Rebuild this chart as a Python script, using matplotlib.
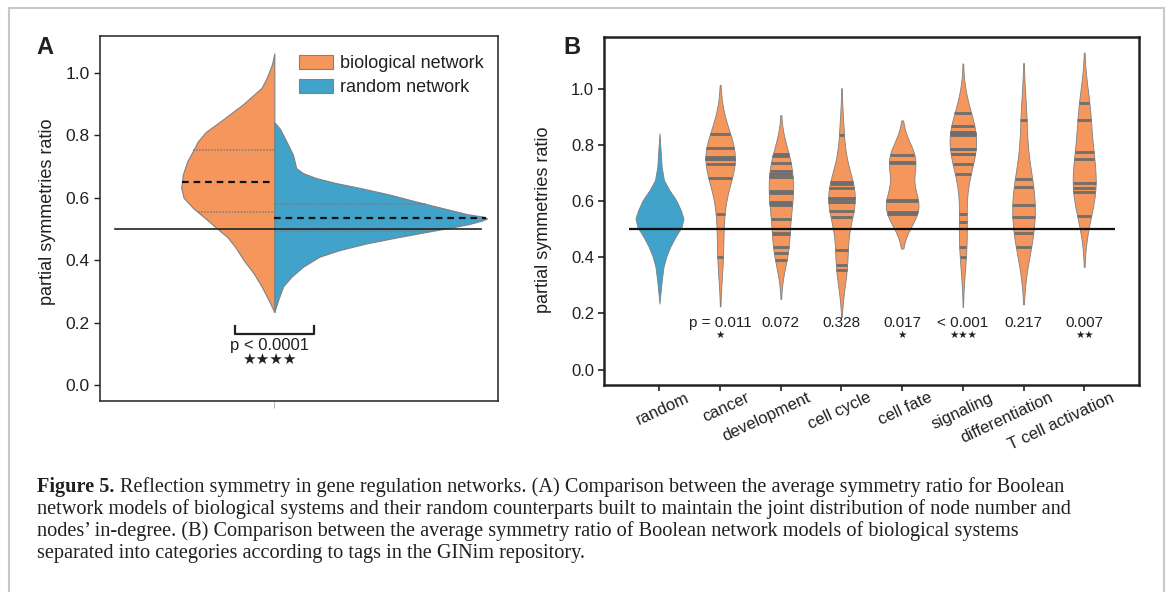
import numpy as np
import matplotlib.pyplot as plt
import matplotlib.transforms as mtransforms
from matplotlib.patches import Patch, Rectangle

plt.rcParams['font.family'] = ['Liberation Sans', 'DejaVu Sans']

ORANGE = '#f5975d'
BLUE = '#41a2ca'
EDGE = '#808080'
STICK = '#6e6e6e'
INK = '#231f20'

# ---- panel A: half-violin outlines (ratio, half width) ----
bio_y = [0.234, 0.274, 0.316, 0.358, 0.400, 0.442, 0.474, 0.505, 0.537, 0.568,
         0.600, 0.632, 0.674, 0.716, 0.758, 0.779, 0.811, 0.846, 0.899, 0.952,
         0.984, 1.027, 1.062]
bio_w = [0.0, 0.015, 0.032, 0.052, 0.077, 0.098, 0.118, 0.147, 0.176, 0.205,
         0.228, 0.234, 0.230, 0.219, 0.201, 0.193, 0.172, 0.134, 0.079, 0.032,
         0.019, 0.006, 0.0]
rand_y = [0.234, 0.274, 0.316, 0.347, 0.379, 0.411, 0.432, 0.453, 0.474, 0.495,
          0.505, 0.516, 0.527, 0.534, 0.540, 0.547, 0.568, 0.589, 0.611, 0.632,
          0.647, 0.663, 0.679, 0.695, 0.716, 0.737, 0.758, 0.789, 0.821, 0.842]
rand_w = [0.0, 0.010, 0.022, 0.043, 0.072, 0.113, 0.163, 0.229, 0.312, 0.402,
          0.447, 0.490, 0.522, 0.535, 0.522, 0.486, 0.419, 0.353, 0.287, 0.213,
          0.155, 0.105, 0.072, 0.055, 0.051, 0.047, 0.039, 0.027, 0.014, 0.0]
bio_quartiles = [0.553, 0.650, 0.752]
rand_quartiles = [0.493, 0.535, 0.580]
legend_labels = ['biological network', 'random network']

# ---- panel B: per-category model ratios ----
categories = ['random', 'cancer', 'development', 'cell cycle', 'cell fate',
              'signaling', 'differentiation', 'T cell activation']
cancer = [0.839, 0.789, 0.758, 0.750, 0.750, 0.732, 0.683, 0.555, 0.400]
development = [0.768, 0.762, 0.737, 0.707, 0.696, 0.685, 0.636, 0.630, 0.598,
               0.590, 0.585, 0.536, 0.487, 0.482, 0.437, 0.415, 0.390]
cell_cycle = [0.836, 0.668, 0.662, 0.648, 0.612, 0.606, 0.598, 0.564, 0.544,
              0.425, 0.371, 0.354]
cell_fate = [0.764, 0.740, 0.735, 0.604, 0.600, 0.560, 0.555]
signaling = [0.913, 0.868, 0.848, 0.845, 0.842, 0.840, 0.835, 0.786, 0.786,
             0.768, 0.768, 0.733, 0.696, 0.555, 0.526, 0.436, 0.401]
differentiation = [0.889, 0.680, 0.651, 0.587, 0.544, 0.485, 0.436]
t_cell = [0.949, 0.889, 0.776, 0.749, 0.663, 0.648, 0.631, 0.546]
groups = [cancer, development, cell_cycle, cell_fate, signaling,
          differentiation, t_cell]

# random networks outline in panel B
brand_y = [0.235, 0.270, 0.318, 0.365, 0.401, 0.437, 0.473, 0.508, 0.538,
           0.568, 0.604, 0.639, 0.675, 0.722, 0.782, 0.842]
brand_w = [0.0, 0.016, 0.038, 0.066, 0.110, 0.176, 0.264, 0.363, 0.396,
           0.352, 0.275, 0.165, 0.074, 0.036, 0.019, 0.0]

pvals_b = ['p = 0.011', '0.072', '0.328', '0.017', '< 0.001', '0.217', '0.007']
stars_b = ['★', '', '', '★', '★★★', '', '★★']

width_per_density = 0.076


def kde(vals, cut=2, n=200):
    vals = np.asarray(vals)
    bw = vals.std(ddof=1) * len(vals) ** (-1 / 5)
    grid = np.linspace(vals.min() - cut * bw, vals.max() + cut * bw, n)
    z = (grid[:, None] - vals[None, :]) / bw
    dens = np.exp(-0.5 * z ** 2).sum(1) / (len(vals) * bw * np.sqrt(2 * np.pi))
    return grid, dens


fig = plt.figure(figsize=(11.68, 5.92), dpi=100)
fig.patch.set_facecolor('white')

# ================= panel A =================
axA = fig.add_axes([100 / 1168, 1 - 401 / 592, 398 / 1168, 365 / 592])
axA.fill_betweenx(bio_y, 0, -np.array(bio_w), facecolor=ORANGE,
                  edgecolor=EDGE, lw=0.8, zorder=2)
axA.fill_betweenx(rand_y, 0, rand_w, facecolor=BLUE,
                  edgecolor=EDGE, lw=0.8, zorder=2)
for i, q in enumerate(bio_quartiles):
    w = np.interp(q, bio_y, bio_w)
    if i == 1:
        axA.plot([-w, 0], [q, q], color='#111111', ls=(0, (3, 2.2)), lw=1.6, zorder=3)
    else:
        axA.plot([-w, 0], [q, q], color='#7a7a7a', ls=(0, (1, 1)), lw=1.1, zorder=3)
for i, q in enumerate(rand_quartiles):
    w = np.interp(q, rand_y, rand_w)
    if i == 1:
        axA.plot([0, w], [q, q], color='#111111', ls=(0, (3, 2.2)), lw=1.6, zorder=3)
    else:
        axA.plot([0, w], [q, q], color='#7a7a7a', ls=(0, (1, 1)), lw=1.1, zorder=3)
axA.plot([-0.40, 0.52], [0.5, 0.5], color='#222222', lw=1.2, zorder=4)

# significance bracket
axA.plot([-0.1, -0.1, 0.1, 0.1], [0.19, 0.165, 0.165, 0.19], color='#222222',
         lw=1.6, zorder=4)
axA.text(-0.012, 0.128, 'p < 0.0001', ha='center', va='center', fontsize=12,
         color=INK)
axA.text(-0.012, 0.083, '★★★★', ha='center', va='center', fontsize=11,
         color=INK, family=['DejaVu Sans'])

axA.set_xlim(-0.438, 0.562)
axA.set_ylim(-0.051, 1.118)
axA.set_yticks(np.arange(0, 1.01, 0.2))
axA.set_yticklabels([f'{v:.1f}' for v in np.arange(0, 1.01, 0.2)])
axA.set_xticks([0])
axA.set_xticklabels([''])
axA.tick_params(axis='x', length=5, color='#bbbbbb')
axA.tick_params(axis='y', length=4, width=1, labelsize=12.5, colors=INK)
for s in axA.spines.values():
    s.set_linewidth(1.2)
    s.set_color('#333333')
axA.legend(handles=[Patch(facecolor=ORANGE, edgecolor=EDGE, lw=0.8),
                    Patch(facecolor=BLUE, edgecolor=EDGE, lw=0.8)],
           labels=legend_labels, loc='upper left', bbox_to_anchor=(0.5, 0.948),
           frameon=False, fontsize=13, handlelength=1.9, handleheight=0.8,
           handletextpad=0.35, labelspacing=0.38, borderpad=0,
           borderaxespad=0, labelcolor=INK)

# ================= panel B =================
axB = fig.add_axes([604.5 / 1168, 1 - 385 / 592, 534 / 1168, 348 / 592])
axB.fill_betweenx(brand_y, -np.array(brand_w), brand_w, facecolor=BLUE,
                  edgecolor=EDGE, lw=0.6, zorder=2)
for pos, vals in enumerate(groups, start=1):
    grid, dens = kde(vals)
    half = dens * width_per_density
    axB.fill_betweenx(grid, pos - half, pos + half, facecolor=ORANGE,
                      edgecolor=EDGE, lw=0.6, zorder=2)
    for v in vals:
        w = np.interp(v, grid, dens) * width_per_density
        axB.plot([pos - w, pos + w], [v, v], color=STICK, lw=2.0,
                 solid_capstyle='butt', zorder=3)
axB.hlines(0.5, -0.5, 7.5, color='#111111', lw=1.6, zorder=4)

for pos, (p, st) in enumerate(zip(pvals_b, stars_b), start=1):
    axB.text(pos, 0.165, p, ha='center', va='center', fontsize=11, color=INK)
    if st:
        axB.text(pos, 0.123, st, ha='center', va='center', fontsize=7.5,
                 color=INK, family=['DejaVu Sans'])

axB.set_xlim(-0.906, 7.895)
axB.set_ylim(-0.055, 1.185)
axB.set_yticks(np.arange(0, 1.01, 0.2))
axB.set_yticklabels([f'{v:.1f}' for v in np.arange(0, 1.01, 0.2)])
axB.set_xticks(range(len(categories)))
axB.set_xticklabels([])
axB.tick_params(axis='both', length=4, width=1.2, labelsize=12, colors=INK)
# category names, rotated and hung to the right of each tick
base = mtransforms.blended_transform_factory(axB.transData, axB.transAxes)
shift = mtransforms.ScaledTranslation(0.26, -0.05, fig.dpi_scale_trans)
for pos, name in enumerate(categories):
    axB.text(pos, 0, name, transform=base + shift, rotation=25,
             rotation_mode='anchor', ha='right', va='top', fontsize=12,
             color=INK)
for s in axB.spines.values():
    s.set_linewidth(1.8)
    s.set_color('#222222')

# ---- labels ----
fig.text(48 / 1168, 1 - 212 / 592, 'partial symmetries ratio', rotation=90,
         ha='center', va='center', fontsize=13, color=INK)
fig.text(544 / 1168, 1 - 220 / 592, 'partial symmetries ratio', rotation=90,
         ha='center', va='center', fontsize=13, color=INK)
fig.text(36 / 1168, 1 - 47 / 592, 'A', fontsize=17, fontweight='bold',
         ha='left', va='center', color=INK)
fig.text(563 / 1168, 1 - 47 / 592, 'B', fontsize=17, fontweight='bold',
         ha='left', va='center', color=INK)

# ---- caption ----
cap = dict(fontsize=14.6, color=INK, family=['Liberation Serif', 'DejaVu Serif'])
lines = [
    ('Figure 5.', 'Reflection symmetry in gene regulation networks. (A) Comparison '
     'between the average symmetry ratio for Boolean'),
    ('', 'network models of biological systems and their random counterparts '
     'built to maintain the joint distribution of node number and'),
    ('', 'nodes\u2019 in-degree. (B) Comparison between the average symmetry '
     'ratio of Boolean network models of biological systems'),
    ('', 'separated into categories according to tags in the GINim repository.'),
]
for k, (bold, rest) in enumerate(lines):
    y = 1 - (492 + 22 * k) / 592
    if bold:
        t = fig.text(37 / 1168, y, bold, fontweight='bold', va='baseline', **cap)
        axA.annotate(rest, xy=(1, 0), xycoords=t, xytext=(4, 0),
                     textcoords='offset points', ha='left', va='bottom',
                     annotation_clip=False, **cap)
    else:
        fig.text(37 / 1168, y, rest, va='baseline', **cap)

fig.add_artist(Rectangle((9 / 1168, -0.05), 1155 / 1168, 1.05 - 8 / 592,
                         transform=fig.transFigure, fill=False,
                         edgecolor='#c8c8c8', lw=1.5))

fig.savefig('out.png', dpi=100)
